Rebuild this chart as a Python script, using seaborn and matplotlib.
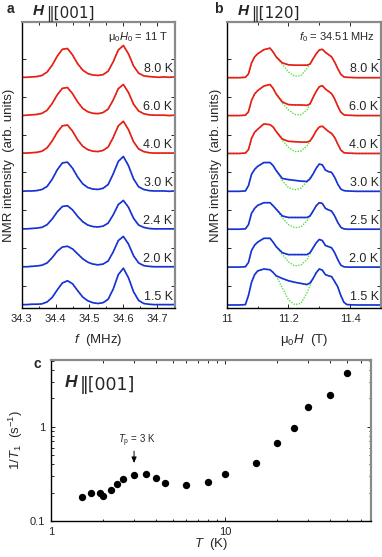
import matplotlib
matplotlib.use("Agg")
import matplotlib.pyplot as plt
import numpy as np
import seaborn as sns
from matplotlib.ticker import NullFormatter, FixedLocator

sns.set_style("ticks")
plt.rcParams['font.family'] = ['Liberation Sans', 'DejaVu Sans']
plt.rcParams['mathtext.fontset'] = 'custom'
plt.rcParams['mathtext.rm'] = 'Liberation Sans'
plt.rcParams['mathtext.it'] = 'Liberation Sans:italic'
plt.rcParams['mathtext.bf'] = 'Liberation Sans:bold'

RED = '#f01818'
BLUE = '#1a2ee0'
GREEN = '#55e040'

# ---- panel a: H || [001], spectra vs frequency (normalised, baseline 0)
freq_a = [34.300, 34.315, 34.330, 34.345, 34.360, 34.375, 34.390, 34.405, 34.420, 34.435,
          34.450, 34.465, 34.480, 34.495, 34.510, 34.525, 34.540, 34.555, 34.570, 34.585,
          34.600, 34.615, 34.630, 34.645, 34.660, 34.675, 34.690, 34.705, 34.720, 34.735, 34.750]
temps_a = ['8.0 K', '6.0 K', '4.0 K', '3.0 K', '2.4 K', '2.0 K', '1.5 K']
spec_a_80 = [.01, .01, .02, .03, .06, .15, .33, .57, .75, .77, .60, .37, .20, .11, .07, .06,
             .08, .17, .42, .73, .85, .63, .31, .12, .05, .03, .02, .01, .02, .01, .02]
spec_a_60 = [.00, .01, .02, .03, .06, .14, .32, .55, .72, .74, .58, .36, .19, .10, .06, .05,
             .08, .17, .41, .71, .82, .61, .30, .12, .05, .02, .01, .01, .01, .00, .01]
spec_a_40 = [.01, .01, .02, .03, .06, .15, .33, .56, .73, .75, .59, .36, .19, .10, .06, .05,
             .08, .17, .42, .73, .85, .63, .31, .12, .05, .02, .01, .01, .01, .01, .01]
spec_a_30 = [.00, .01, .01, .02, .05, .13, .32, .57, .75, .77, .61, .38, .20, .10, .06, .05,
             .08, .18, .46, .79, .92, .68, .33, .12, .05, .02, .01, .01, .01, .00, .01]
spec_a_24 = [.01, .01, .02, .03, .05, .12, .27, .46, .60, .62, .51, .34, .20, .11, .07, .06,
             .08, .16, .38, .65, .76, .58, .29, .11, .05, .02, .01, .01, .01, .01, .01]
spec_a_20 = [.01, .01, .02, .03, .05, .11, .25, .42, .53, .55, .48, .35, .22, .13, .08, .06,
             .08, .16, .40, .70, .81, .61, .30, .11, .04, .02, .01, .01, .01, .01, .01]
spec_a_15 = [.01, .01, .02, .02, .03, .08, .20, .40, .58, .64, .56, .38, .21, .11, .06, .04,
             .06, .15, .42, .80, .97, .72, .35, .12, .04, .02, .01, .01, .01, .01, .01]
spectra_a = [spec_a_80, spec_a_60, spec_a_40, spec_a_30, spec_a_24, spec_a_20, spec_a_15]

# ---- panel b: H || [120], spectra vs field
field_b = [11.00, 11.04, 11.06, 11.07, 11.08, 11.09, 11.10, 11.12, 11.14, 11.15, 11.16,
           11.18, 11.20, 11.22, 11.24, 11.26, 11.27, 11.28, 11.29, 11.30, 11.31, 11.32,
           11.33, 11.34, 11.35, 11.36, 11.37, 11.38, 11.39, 11.42, 11.46, 11.50]
temps_b = ['8.0 K', '6.0 K', '4.0 K', '3.0 K', '2.5 K', '2.0 K', '1.5 K']
spec_b_80 = [.00, .00, .01, .10, .39, .55, .63, .74, .78, .68, .55, .39, .34, .33, .33, .33,
             .36, .50, .63, .73, .75, .67, .61, .55, .41, .24, .09, .02, .01, .00, .00, .00]
spec_b_60 = [.00, .00, .01, .10, .40, .57, .66, .78, .82, .72, .57, .36, .29, .28, .28, .27,
             .31, .48, .64, .76, .79, .70, .64, .58, .44, .25, .09, .02, .01, .00, .00, .00]
spec_b_40 = [.00, .00, .01, .10, .40, .56, .64, .78, .76, .70, .58, .38, .32, .31, .30, .30,
             .33, .45, .60, .70, .72, .65, .58, .53, .42, .25, .09, .02, .01, .00, .00, .00]
spec_b_30 = [.00, .00, .01, .15, .45, .58, .66, .76, .76, .68, .55, .34, .31, .29, .27, .26,
             .33, .46, .61, .72, .70, .56, .52, .50, .37, .19, .06, .02, .01, .00, .00, .00]
spec_b_25 = [.00, .00, .01, .12, .42, .55, .63, .70, .70, .62, .53, .35, .31, .31, .31, .31,
             .35, .48, .62, .70, .68, .55, .51, .48, .35, .18, .05, .01, .00, .00, .00, .00]
spec_b_20 = [.00, .00, .01, .12, .44, .58, .66, .76, .76, .66, .54, .38, .33, .33, .33, .33,
             .38, .51, .64, .73, .70, .57, .54, .51, .38, .20, .05, .01, .00, .00, .00, .00]
spec_b_15 = [.00, .00, .01, .25, .60, .80, .90, .95, .93, .86, .77, .70, .64, .60, .57, .54,
             .58, .70, .85, .95, .92, .80, .77, .75, .62, .48, .25, .07, .01, .00, .00, .00]
spectra_b = [spec_b_80, spec_b_60, spec_b_40, spec_b_30, spec_b_25, spec_b_20, spec_b_15]

# fitted curves in the gap between the two peaks (elsewhere the fit sits on the data)
fit_gap_x = [11.16, 11.18, 11.20, 11.22, 11.24, 11.26, 11.28]
fit_b_80 = [.55, .35, .15, .04, .05, .24, .50]
fit_b_60 = [.57, .33, .15, .03, .02, .14, .48]
fit_b_40 = [.58, .35, .16, .05, .06, .20, .45]
fit_b_30 = [.55, .28, .10, .04, .08, .26, .46]
fit_b_25 = [.53, .30, .12, .04, .06, .22, .48]
fit_b_20 = [.54, .33, .14, .03, .05, .20, .51]
fit_b_15 = [.77, .45, .14, .01, .04, .32, .70]
fits_b = [fit_b_80, fit_b_60, fit_b_40, fit_b_30, fit_b_25, fit_b_20, fit_b_15]

# ---- panel c: spin-lattice relaxation rate
T_c = [1.5, 1.7, 1.9, 2.0, 2.2, 2.4, 2.6, 3.0, 3.5, 4.0, 4.5, 6.0, 8.0, 10, 15, 20, 25, 30, 40, 50]
rate_c = [0.178, 0.20, 0.20, 0.183, 0.212, 0.247, 0.281, 0.308, 0.316, 0.288, 0.251, 0.241,
          0.261, 0.315, 0.415, 0.67, 0.975, 1.62, 2.18, 3.68]

fig = plt.figure(figsize=(3.82, 5.57), dpi=100)
ax_a = fig.add_axes([0.0568, 0.447, 0.401, 0.5135])
ax_b = fig.add_axes([0.594, 0.447, 0.403, 0.5135])
ax_c = fig.add_axes([0.1335, 0.0646, 0.838, 0.289])


def style_spines(ax):
    for side in ['left', 'bottom']:
        ax.spines[side].set_color('black')
        ax.spines[side].set_linewidth(1.0)
    for side in ['top', 'right']:
        ax.spines[side].set_color('#8a8a8a')
        ax.spines[side].set_linewidth(1.6)
    ax.tick_params(which='both', direction='in', top=True, right=True, width=0.7,
                   labelsize=8, pad=4)
    ax.tick_params(which='major', length=3)
    ax.tick_params(which='minor', length=1.8)


# spectra panels
for ax, xs, spectra, temps in [(ax_a, freq_a, spectra_a, temps_a),
                               (ax_b, field_b, spectra_b, temps_b)]:
    for i, (spec, lab) in enumerate(zip(spectra, temps)):
        off = 6 - i
        col = RED if i < 3 else BLUE
        y = np.array(spec) + off
        sns.lineplot(x=xs, y=y, ax=ax, color=GREEN, lw=1.1, ls=(0, (1, 1)),
                     sort=False, estimator=None)
        if ax is ax_b:
            sns.lineplot(x=fit_gap_x, y=np.array(fits_b[i]) + off, ax=ax, color=GREEN,
                         lw=1.0, ls=(0, (1, 1)), sort=False, estimator=None)
        sns.lineplot(x=xs, y=y, ax=ax, color=col, lw=1.2, sort=False, estimator=None)
        ax.text(0.985, off + 0.22, lab, transform=ax.get_yaxis_transform(),
                ha='right', va='center', fontsize=9)
    ax.set_ylim(-0.08, 7.47)
    ax.yaxis.set_major_locator(FixedLocator([0.5, 1.5, 2.5, 3.5, 4.5, 5.5, 6.5]))
    ax.set_yticklabels([])
    ax.set_ylabel('NMR intensity  (arb. units)', fontsize=9.5)
    style_spines(ax)

ax_a.set_xlim(34.3, 34.752)
ax_a.set_xticks([34.3, 34.4, 34.5, 34.6, 34.7])
ax_a.set_xticklabels(['34.3', '34.4', '34.5', '34.6', '34.7'])
ax_a.xaxis.set_minor_locator(FixedLocator([34.35, 34.45, 34.55, 34.65, 34.75]))
ax_a.set_xlabel('$f$  (MHz)', fontsize=9.5)
ax_a.yaxis.set_label_coords(-0.045, 0.5)
ax_a.xaxis.set_label_coords(0.5, -0.083)
ax_a.text(0.955, 7.08, r'$\mathrm{\mu}_0H_0$ = 11 T', transform=ax_a.get_yaxis_transform(),
          ha='right', va='center', fontsize=8)

ax_b.set_xlim(11.0, 11.5)
ax_b.set_xticks([11.0, 11.2, 11.4])
ax_b.set_xticklabels(['11', '11.2', '11.4'])
ax_b.xaxis.set_minor_locator(FixedLocator([11.1, 11.3, 11.5]))
ax_b.set_xlabel(r'$\mathrm{\mu}_0H$  (T)', fontsize=9.5)
ax_b.yaxis.set_label_coords(-0.032, 0.5)
ax_b.xaxis.set_label_coords(0.5, -0.083)
ax_b.text(0.96, 7.08, '$f_0$ = 34.51 MHz', transform=ax_b.get_yaxis_transform(),
          ha='right', va='center', fontsize=8)

# panel c
sns.scatterplot(x=T_c, y=rate_c, ax=ax_c, color='black', s=28, edgecolor='black',
                linewidth=0, zorder=3)
ax_c.set_xscale('log')
ax_c.set_yscale('log')
ax_c.set_xlim(1, 69)
ax_c.set_ylim(0.1, 5.1)
ax_c.set_xticks([1, 10])
ax_c.set_xticklabels(['1', '10'])
ax_c.set_yticks([0.1, 1])
ax_c.set_yticklabels(['0.1', '1'])
ax_c.xaxis.set_minor_formatter(NullFormatter())
ax_c.yaxis.set_minor_formatter(NullFormatter())
style_spines(ax_c)
ax_c.set_xlabel('$T$  (K)', fontsize=9.5)
ax_c.set_ylabel('1/$T_1$  (s$^{-1}$)', fontsize=9.5)
ax_c.yaxis.set_label_coords(-0.08, 0.5)
ax_c.xaxis.set_label_coords(0.5, -0.09)
ax_c.annotate('', xy=(3.0, 0.385), xytext=(3.0, 0.59),
              arrowprops=dict(arrowstyle='-|>,head_length=0.35,head_width=0.15',
                              color='black', lw=0.7))
ax_c.text(3.1, 0.71, r'$T_\mathrm{p}$ = 3 K', ha='center', va='center', fontsize=7)

# panel letters and field-direction titles
fig.text(10 / 382, 1 - 9 / 557, 'a', fontsize=10, fontweight='bold', ha='center', va='center')
fig.text(218 / 382, 1 - 9 / 557, 'b', fontsize=10, fontweight='bold', ha='center', va='center')
fig.text(37 / 382, 1 - 364 / 557, 'c', fontsize=10, fontweight='bold', ha='center', va='center')


def field_title(x, y, rest, size):
    h = fig.text(x, y, 'H', fontsize=size, fontweight='bold', style='italic',
                 ha='left', va='baseline')
    fig.canvas.draw()
    plt.annotate(rest, xy=(1.0, 0.0), xycoords=h, xytext=(1.5, 0),
                 textcoords='offset points', fontsize=size, ha='left', va='baseline',
                 family=['DejaVu Sans'], annotation_clip=False)


field_title(33 / 382, 1 - 15 / 557, '‖[001]', 11)
field_title(238 / 382, 1 - 15 / 557, '‖[120]', 11)
field_title(65 / 382, 1 - 387 / 557, '‖[001]', 12.5)

fig.savefig('out.png', dpi=100)
